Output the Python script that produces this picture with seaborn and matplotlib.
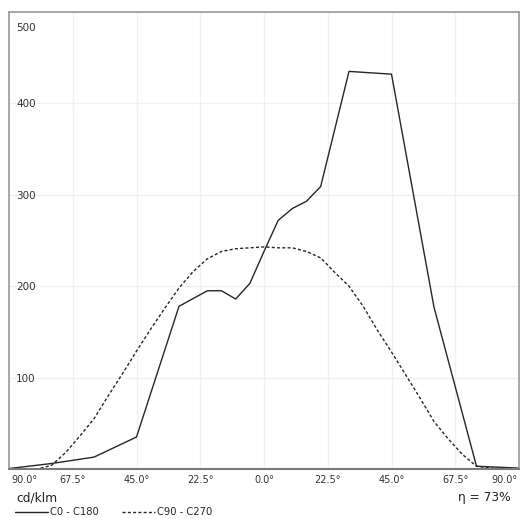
import numpy as np
import seaborn as sns
import matplotlib.pyplot as plt
import matplotlib.transforms as mtransforms
import pandas as pd

sns.set_style("white")
plt.rcParams['font.family'] = ['DejaVu Sans Condensed', 'DejaVu Sans']

# C0 - C180 plane (cd/klm)
c0_angle = [-90, -75, -60, -45, -30, -20, -15, -10, -5, 0, 5, 10, 15, 20, 30, 45, 60, 75, 90]
c0_value = [0.5, 6, 13, 35, 178, 195, 195, 186, 203, 238, 272, 285, 293, 309, 435, 432, 177, 3, 1]

# C90 - C270 plane (cd/klm)
c90_angle = [-90, -80, -75, -70, -65, -60, -55, -50, -45, -40, -35, -30, -25, -20, -15, -10, -5,
             0, 5, 10, 15, 20, 25, 30, 35, 40, 45, 50, 55, 60, 65, 70, 75, 80, 90]
c90_value = [0, 0, 4, 18, 36, 55, 80, 104, 129, 153, 176, 198, 216, 230, 238, 241, 242,
             243, 242, 242, 238, 231, 215, 200, 178, 152, 128, 103, 78, 52, 33, 16, 3, 1, 0]

x_ticks = [-90, -67.5, -45, -22.5, 0, 22.5, 45, 67.5, 90]
y_ticks = [100, 200, 300, 400, 500]
efficiency = 73

df = pd.concat([
    pd.DataFrame({'angle': c0_angle, 'cd': c0_value, 'plane': 'C0 - C180'}),
    pd.DataFrame({'angle': c90_angle, 'cd': c90_value, 'plane': 'C90 - C270'}),
])

fig = plt.figure(figsize=(5.2, 5.19), dpi=100)
ax = fig.add_axes([9 / 520, 50 / 519, 510 / 520, 457 / 519])

sns.lineplot(data=df, x='angle', y='cd', style='plane', sort=False,
             dashes={'C0 - C180': '', 'C90 - C270': (2.2, 1.6)},
             color='#262626', linewidth=1.0, ax=ax)

ax.set_xlim(-90, 90)
ax.set_ylim(0, 500)
ax.set_xlabel('')
ax.set_ylabel('')
ax.grid(True, color='#f0f0f0', linewidth=1.0)

ax.set_xticks(x_ticks)
ax.set_xticklabels([f"{abs(a):.1f}°" for a in x_ticks])
ax.set_yticks(y_ticks)
ax.set_yticklabels([str(v) for v in y_ticks])
ax.tick_params(axis='x', length=0, pad=4, labelsize=7, labelcolor='#333333')
ax.tick_params(axis='y', length=0, pad=-5, labelsize=7.5, labelcolor='#333333')
plt.setp(ax.get_yticklabels(), ha='left')

xl = ax.get_xticklabels()
xl[0].set_ha('left')
xl[0].set_transform(xl[0].get_transform() + mtransforms.ScaledTranslation(2 / 100, 0, fig.dpi_scale_trans))
xl[-1].set_ha('right')
xl[-1].set_transform(xl[-1].get_transform() + mtransforms.ScaledTranslation(-2 / 100, 0, fig.dpi_scale_trans))
yl = ax.get_yticklabels()
yl[-1].set_transform(yl[-1].get_transform() + mtransforms.ScaledTranslation(0, -15 / 100, fig.dpi_scale_trans))

for s in ['left', 'top', 'right']:
    ax.spines[s].set_color('#9a9a9a')
    ax.spines[s].set_linewidth(1.2)
ax.spines['bottom'].set_color('#7a7a7a')
ax.spines['bottom'].set_linewidth(1.5)

ax.legend(loc='lower left', bbox_to_anchor=(13 / 520, 0.0), bbox_transform=fig.transFigure,
          ncol=2, frameon=False, fontsize=7.2, handlelength=3.3, handletextpad=0.2,
          columnspacing=2.3, borderpad=0.2, borderaxespad=0.0)

fig.text(16 / 520, 1 - 498 / 519, 'cd/klm', fontsize=8.8, va='center', ha='left', color='#222222')
fig.text(511 / 520, 1 - 497 / 519, f'η = {efficiency}%', fontsize=8.8, va='center', ha='right', color='#222222')

fig.savefig('out.png', dpi=100)
